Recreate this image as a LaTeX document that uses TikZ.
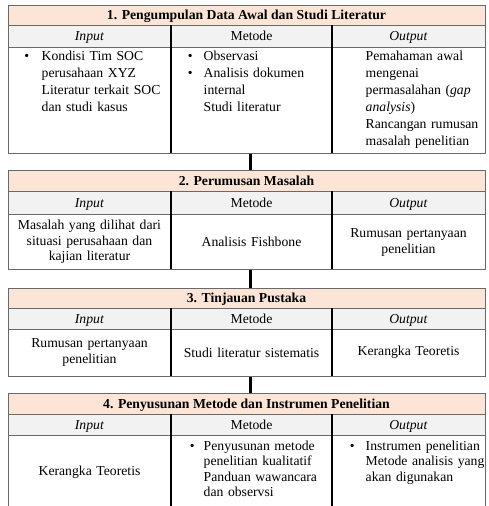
\documentclass[tikz,border=0pt]{standalone}
\usepackage{fontspec}
\setmainfont{Liberation Serif}
\definecolor{peach}{RGB}{252,229,214}
\definecolor{headgray}{RGB}{242,242,242}
\definecolor{framegray}{RGB}{105,105,105}
\begin{document}
\begin{tikzpicture}[x=1pt,y=-1pt,
  tbox/.style={draw=framegray, line width=1.1pt, minimum width=477pt, inner sep=0pt, anchor=north west},
  sepline/.style={draw=framegray, line width=1pt},
  colline/.style={draw=black, line width=1.3pt},
  conn/.style={draw=black, line width=2.6pt},
  titletext/.style={font=\fontsize{13.7}{16}\selectfont\bfseries, inner sep=0pt, anchor=base},
  headtext/.style={font=\fontsize{13.7}{16}\selectfont, inner sep=0pt, anchor=base},
  bodyA/.style={font=\fontsize{13.7}{16.9}\selectfont, inner sep=0pt, align=left, text width=150pt, anchor=base west},
  bodyB/.style={font=\fontsize{13.7}{15.3}\selectfont, inner sep=0pt, align=center, text width=158pt},
  bodyBL/.style={font=\fontsize{13.7}{15.3}\selectfont, inner sep=0pt, align=left, text width=150pt, anchor=base west},
  bul/.style={font=\fontsize{13.7}{16}\selectfont, inner sep=0pt, anchor=base west}
]
\clip (0,0) rectangle (488,506);
\fill[white] (0,0) rectangle (488,506);

% ---------- Table 1 ----------
\fill[peach] (8,5) rectangle (485,25);
\fill[headgray] (8,25) rectangle (485,47);
\draw[sepline] (8,25) -- (485,25);
\draw[sepline] (8,47) -- (485,47);
\draw[colline] (171,25) -- (171,153);
\draw[colline] (332,25) -- (332,153);
\node[tbox, minimum height=148pt] (t1) at (8,5) {};
\node[titletext] (t1title) at (246.5,19.5) {1. Pengumpulan Data Awal dan Studi Literatur};
\node[headtext] (t1in) at (89.5,40.5) {\textit{Input}};
\node[headtext] (t1me) at (251.5,40.5) {Metode};
\node[headtext] (t1out) at (408.5,40.5) {\textit{Output}};
\node[bul] (t1b1) at (24.2,60.5) {•};
\node[bodyA] (t1inbody) at (41.5,60.5) {Kondisi Tim SOC\\perusahaan XYZ\\Literatur terkait SOC\\dan studi kasus};
\node[bul] (t1b2) at (187.6,60.5) {•};
\node[bul] (t1b3) at (187.6,77.4) {•};
\node[bodyA] (t1mebody) at (203.5,60.5) {Observasi\\Analisis dokumen\\internal\\Studi literatur};
\node[bodyA] (t1outbody) at (365.5,60.5) {Pemahaman awal\\mengenai\\permasalahan (\textit{gap}\\\textit{analysis})\\Rancangan rumusan\\masalah penelitian};

% ---------- Table 2 ----------
\fill[peach] (8,170) rectangle (485,191);
\fill[headgray] (8,191) rectangle (485,214);
\draw[sepline] (8,191) -- (485,191);
\draw[sepline] (8,214) -- (485,214);
\draw[colline] (171,191) -- (171,269);
\draw[colline] (332,191) -- (332,269);
\node[tbox, minimum height=99pt] (t2) at (8,170) {};
\node[titletext] (t2title) at (246.5,185) {2. Perumusan Masalah};
\node[headtext] (t2in) at (89.5,207) {\textit{Input}};
\node[headtext] (t2me) at (251.5,207) {Metode};
\node[headtext] (t2out) at (408.5,207) {\textit{Output}};
\node[bodyB] (t2inbody) at (89.5,242) {Masalah yang dilihat dari\\situasi perusahaan dan\\kajian literatur};
\node[bodyB] (t2mebody) at (251.5,242) {Analisis Fishbone};
\node[bodyB] (t2outbody) at (408.5,242.5) {Rumusan pertanyaan\\penelitian};

% ---------- Table 3 ----------
\fill[peach] (8,288) rectangle (485,308);
\fill[headgray] (8,308) rectangle (485,329);
\draw[sepline] (8,308) -- (485,308);
\draw[sepline] (8,329) -- (485,329);
\draw[colline] (171,308) -- (171,376);
\draw[colline] (332,308) -- (332,376);
\node[tbox, minimum height=88pt] (t3) at (8,288) {};
\node[titletext] (t3title) at (246.5,302.5) {3. Tinjauan Pustaka};
\node[headtext] (t3in) at (89.5,323) {\textit{Input}};
\node[headtext] (t3me) at (251.5,323) {Metode};
\node[headtext] (t3out) at (408.5,323) {\textit{Output}};
\node[bodyB] (t3inbody) at (89.5,352.5) {Rumusan pertanyaan\\penelitian};
\node[bodyB] (t3mebody) at (251.5,352.5) {Studi literatur sistematis};
\node[bodyB] (t3outbody) at (408.5,352.5) {Kerangka Teoretis};

% ---------- Table 4 ----------
\fill[peach] (8,393) rectangle (485,414);
\fill[headgray] (8,414) rectangle (485,435);
\draw[sepline] (8,414) -- (485,414);
\draw[sepline] (8,435) -- (485,435);
\draw[colline] (171,414) -- (171,515);
\draw[colline] (332,414) -- (332,515);
\node[tbox, minimum height=122pt] (t4) at (8,393) {};
\node[titletext] (t4title) at (246.5,408) {4. Penyusunan Metode dan Instrumen Penelitian};
\node[headtext] (t4in) at (89.5,429) {\textit{Input}};
\node[headtext] (t4me) at (251.5,429) {Metode};
\node[headtext] (t4out) at (408.5,429) {\textit{Output}};
\node[bodyB] (t4inbody) at (89.5,472) {Kerangka Teoretis};
\node[bul] (t4b1) at (189.6,450.5) {•};
\node[bodyBL] (t4mebody) at (203.5,450.5) {Penyusunan metode\\penelitian kualitatif\\Panduan wawancara\\dan observsi};
\node[bul] (t4b2) at (349.6,450.5) {•};
\node[bodyBL] (t4outbody) at (365.5,450.5) {Instrumen penelitian\\Metode analisis yang\\akan digunakan};

% ---------- Connectors ----------
\coordinate (cx) at (250.5,0);
\draw[conn] (t1.south -| cx) -- (t2.north -| cx);
\draw[conn] (t2.south -| cx) -- (t3.north -| cx);
\draw[conn] (t3.south -| cx) -- (t4.north -| cx);
\end{tikzpicture}
\end{document}
